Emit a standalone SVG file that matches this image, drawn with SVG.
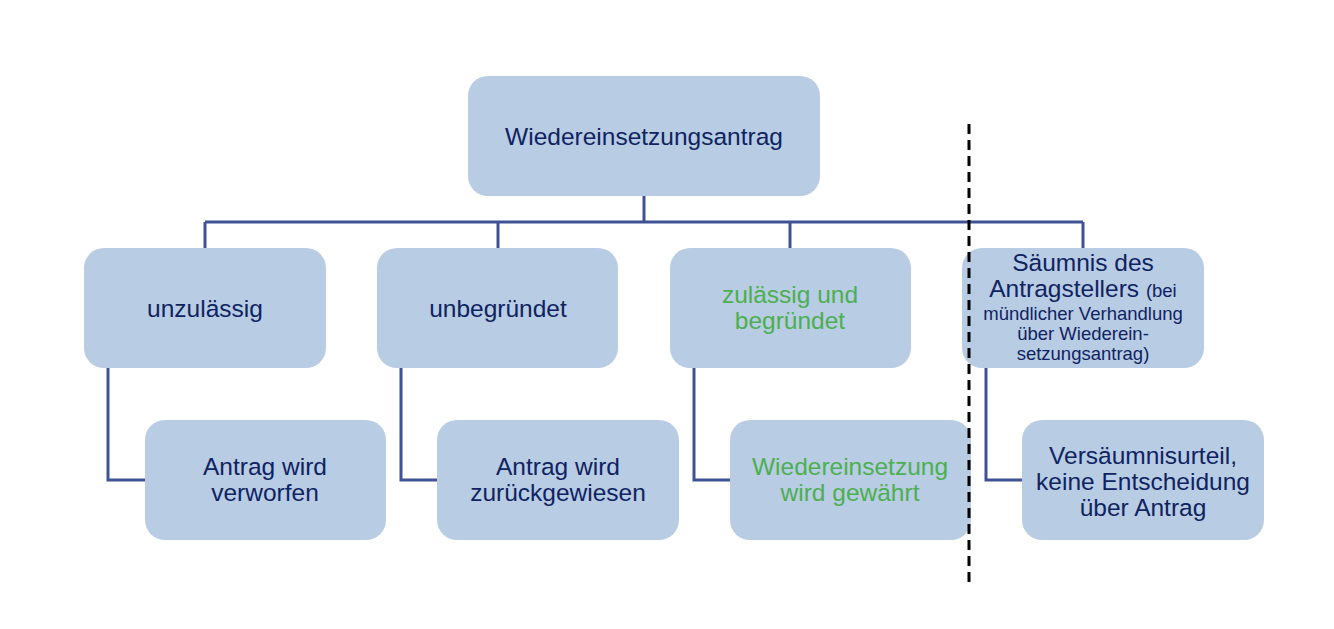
<svg xmlns="http://www.w3.org/2000/svg" width="1334" height="629" viewBox="0 0 1334 629">
<style>
.box{fill:#b8cce4;}
.t{font-family:"Liberation Sans",Arial,sans-serif;font-size:24.5px;fill:#0f2361;text-anchor:middle;}
.g{fill:#4caf50;}
.s{font-size:18.5px;}
.c{fill:none;stroke:#3f5293;stroke-width:3;}
</style>
<rect width="1334" height="629" fill="#ffffff"/>
<g id="connectors">
<path class="c" d="M644 196V222M205 222H1083M205 222V248M498 222V248M790 222V248M1083 222V248"/>
<path class="c" d="M108 368V480H145M401 368V480H437M694 368V480H730M986 368V480H1022"/>
</g>
<g id="root"><rect class="box" x="468" y="76" width="352" height="120" rx="20"/><text class="t" x="644" y="145">Wiedereinsetzungsantrag</text></g>
<g id="unzulaessig"><rect class="box" x="84" y="248" width="242" height="120" rx="20"/><text class="t" x="205" y="317">unzulässig</text></g>
<g id="unbegruendet"><rect class="box" x="377" y="248" width="241" height="120" rx="20"/><text class="t" x="498" y="317">unbegründet</text></g>
<g id="zulaessig"><rect class="box" x="670" y="248" width="241" height="120" rx="20"/><text class="t g" x="790" y="303">zulässig und</text><text class="t g" x="790" y="329">begründet</text></g>
<g id="saeumnis"><rect class="box" x="962" y="248" width="242" height="120" rx="20"/>
<text class="t" x="1083" y="271">Säumnis des</text>
<text class="t" x="1083" y="297">Antragstellers <tspan class="s">(bei</tspan></text>
<text class="t s" x="1083" y="320">mündlicher Verhandlung</text>
<text class="t s" x="1083" y="340">über Wiederein-</text>
<text class="t s" x="1083" y="360">setzungsantrag)</text></g>
<g id="verworfen"><rect class="box" x="145" y="420" width="241" height="120" rx="20"/><text class="t" x="265" y="475">Antrag wird</text><text class="t" x="265" y="501">verworfen</text></g>
<g id="zurueckgewiesen"><rect class="box" x="437" y="420" width="242" height="120" rx="20"/><text class="t" x="558" y="475">Antrag wird</text><text class="t" x="558" y="501">zurückgewiesen</text></g>
<g id="gewaehrt"><rect class="box" x="730" y="420" width="241" height="120" rx="20"/><text class="t g" x="850" y="475">Wiedereinsetzung</text><text class="t g" x="850" y="501">wird gewährt</text></g>
<g id="versaeumnisurteil"><rect class="box" x="1022" y="420" width="242" height="120" rx="20"/><text class="t" x="1143" y="464">Versäumnisurteil,</text><text class="t" x="1143" y="490">keine Entscheidung</text><text class="t" x="1143" y="516">über Antrag</text></g>
<g id="divider"><line x1="969" y1="124" x2="969" y2="582" stroke="#000" stroke-width="3" stroke-dasharray="10 6"/></g>
</svg>
